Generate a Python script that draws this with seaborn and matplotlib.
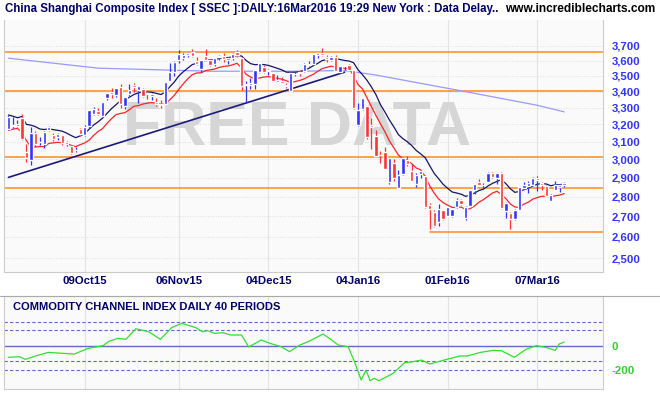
import numpy as np
import pandas as pd
import matplotlib
matplotlib.use("Agg")
import matplotlib.pyplot as plt
import seaborn as sns
from matplotlib.ticker import FixedLocator, NullLocator

# daily bars, 09Sep15 .. 16Mar16 (trading days)
opens = [3172,3190,3189,3237,3042,2996,3150,3095,3086,3165,3140,3124,3136,3085,3076,3052,
         3171,3140,3192,3262,3282,3251,3357,3396,3380,3428,3311,3387,3441,3410,3414,3388,3370,
         3336,3320,3325,3470,3525,3603,3620,3640,3656,3600,3546,3629,3603,3576,3621,3631,3602,3614,3659,3616,3444,
         3442,3450,3525,3558,3529,3518,3462,3469,3441,3404,3510,3522,3531,3573,3577,3639,3652,3625,3607,3626,3528,3566,3570,
         3536,3196,3292,3309,3195,3131,3023,3042,2876,2979,2847,2922,2999,2937,2867,2921,2911,2759,2720,2674,
         2731,2700,2704,2750,2785,2694,2755,2837,2878,2860,2878,2924,2898,2927,2726,2719,
         2687,2733,2845,2856,2864,2889,2874,2858,2780,2835,2852,2860]
highs = [3256,3243,3226,3262,3084,3182,3160,3125,3160,3192,3147,3150,3139,3102,3076,3070,
         3179,3198,3289,3304,3298,3338,3392,3423,3425,3448,3369,3445,3457,3437,3421,3397,3388,
         3358,3350,3459,3585,3596,3673,3649,3657,3679,3623,3606,3678,3612,3617,3640,3654,3617,3648,3669,3621,3470,
         3484,3538,3585,3568,3543,3518,3503,3495,3456,3521,3526,3540,3583,3599,3645,3651,3684,3638,3632,3636,3566,3573,3580,
         3538,3329,3362,3309,3236,3166,3044,3070,3011,3001,2940,3011,3020,2977,2925,2943,2914,2768,2734,2765,
         2732,2750,2739,2795,2786,2752,2837,2868,2892,2871,2933,2930,2928,2929,2775,2721,
         2738,2850,2875,2883,2904,2912,2878,2862,2815,2885,2867,2879]
lows = [3165,3178,3183,3110,2983,2968,3068,3083,3066,3160,3106,3108,3082,3075,3032,3039,
        3132,3134,3180,3257,3257,3250,3347,3358,3364,3297,3292,3372,3399,3332,3365,3354,3345,
        3310,3300,3325,3465,3501,3581,3606,3625,3627,3569,3524,3600,3563,3566,3601,3593,3577,3607,3627,3412,3327,
        3414,3417,3519,3520,3506,3465,3459,3454,3425,3401,3497,3502,3526,3564,3569,3618,3629,3592,3597,3532,3528,3538,3538,
        3295,3189,3289,3115,3056,3016,2978,2948,2867,2885,2845,2915,2962,2880,2849,2897,2740,2638,2646,2654,
        2683,2700,2695,2742,2758,2682,2755,2815,2860,2845,2877,2897,2869,2738,2693,2638,
        2681,2733,2838,2817,2860,2830,2833,2805,2779,2835,2824,2851]
closes = [3243,3197,3200,3114,3005,3152,3086,3097,3156,3185,3115,3142,3092,3100,3038,3053,
          3143,3183,3287,3293,3262,3338,3391,3386,3425,3320,3368,3412,3429,3434,3375,3387,3382,
          3325,3316,3459,3522,3590,3646,3640,3650,3632,3580,3606,3604,3568,3617,3630,3610,3616,3647,3635,3436,3445,
          3456,3536,3584,3524,3536,3470,3472,3455,3435,3520,3510,3516,3580,3578,3642,3651,3636,3612,3627,3533,3563,3572,3539,
          3296,3287,3361,3125,3186,3017,3022,2949,3007,2901,2913,3007,2976,2881,2916,2938,2750,2735,2655,2738,
          2689,2749,2739,2781,2763,2746,2837,2867,2862,2860,2927,2903,2928,2741,2767,2688,
          2733,2850,2859,2874,2897,2901,2862,2805,2810,2859,2864,2870]

date_labels = ["09Oct15", "06Nov15", "04Dec15", "04Jan16", "01Feb16", "07Mar16"]
date_idx = [17, 38, 58, 78, 98, 118]

ma200_idx = [0, 20, 45, 65, 75, 82, 100, 118, 124]
ma200_val = [3616, 3550, 3530, 3530, 3535, 3505, 3410, 3315, 3275]

trend_idx = [0, 75]
trend_val = [2902, 3524]

orange_levels = [3659, 3404, 3013, 2846]
support_level = 2626
support_start = 94

cci_idx = [0, 2.4, 3.8, 6.2, 8.9, 14.7, 17.8, 21.1, 22.4, 24.4, 26.2, 28.4, 31.3, 33.9, 36.4, 38.7,
           41.8, 43.3, 44.4, 46, 47.8, 49.6, 52, 53.6, 56.4, 58.4, 60.9, 62.7, 64.9, 67.2, 70.2, 71.6,
           73.6, 75.8, 77.3, 78.7, 79.8, 80.7, 81.6, 82.7, 85.8, 88.4, 89.8, 92.2, 94, 97.8, 100.7,
           102.4, 105.3, 108.2, 110, 112.9, 115.6, 117.8, 120.2, 122, 122.9, 124]
cci_val = [-94, -89, -111, -81, -53, -67, -19, 3, 39, 64, 56, 144, 119, 56, 153, 189,
           153, 119, 128, 106, 111, 92, 92, -8, 50, 22, -6, -47, 6, 42, 100, 64,
           8, -6, -139, -283, -200, -289, -269, -289, -228, -139, -133, -117, -150, -111, -83,
           -83, -53, -36, -39, -94, -25, 3, -14, -36, 17, 33]

sns.set_style("white")
plt.rcParams['font.family'] = ['Liberation Sans', 'DejaVu Sans']

W, H = 660, 400
fig = plt.figure(figsize=(6.6, 4.0), dpi=100)
fig.patch.set_facecolor("white")
ax = fig.add_axes([4/W, 1-272/H, 599/W, 252/H])
ax2 = fig.add_axes([4/W, 1-389/H, 599/W, 93/H])

navy = "#000066"
blue = "#3333ff"
xmax = (603 - 6) / 4.5

df = pd.DataFrame({"i": np.arange(len(closes)), "o": opens, "h": highs, "l": lows, "c": closes})
df["up"] = df.c >= df.o

for a in (ax, ax2):
    a.set_facecolor("#fafafa")
    for s in a.spines.values():
        s.set_color("#cccccc")
        s.set_linewidth(0.8)
ax.spines["top"].set_visible(False)

# main panel
ax.set_yscale("log")
ax.set_ylim(2437, 3880)
ax.set_xlim(-1, xmax)
ticks = list(range(2500, 3800, 100))
ax.yaxis.set_major_locator(FixedLocator(ticks))
ax.yaxis.set_minor_locator(NullLocator())
ax.set_yticklabels([f"{t:,}" for t in ticks], color=blue, fontsize=8.2, fontweight="bold")
ax.yaxis.tick_right()
ax.tick_params(axis="y", length=0, pad=6)
ax.set_xticks(date_idx)
ax.set_xticklabels(date_labels, color=navy, fontsize=8.2, fontweight="bold")
ax.tick_params(axis="x", length=0, pad=3)
for t in ticks:
    ax.axhline(t, color="#dddddd", lw=0.7, ls=":", zorder=0)
for d in date_idx:
    ax.axvline(d, color="#e3e3e3", lw=0.8, zorder=0)

ax.text(0.49, 0.57, "FREE DATA", transform=ax.transAxes, ha="center", va="center",
        fontsize=45, fontweight="bold", color="#d6d6d6", zorder=0)

for lv in orange_levels:
    ax.axhline(lv, color="#ff8c1a", lw=1.1, zorder=1)
ax.plot([support_start, xmax], [support_level, support_level], color="#ff8c1a", lw=1.1, zorder=1)

sns.lineplot(x=ma200_idx, y=ma200_val, ax=ax, color="#9999ff", lw=0.9, zorder=2)
sns.lineplot(x=trend_idx, y=trend_val, ax=ax, color="#1a1a7a", lw=1.2, zorder=2)

hi_ma = df.h.ewm(span=10).mean()
lo_ma = df.l.ewm(span=10).mean()
sns.lineplot(x=df.i, y=hi_ma, ax=ax, color="#141466", lw=0.9, zorder=3)
sns.lineplot(x=df.i, y=lo_ma, ax=ax, color="#ff2222", lw=0.9, zorder=3)

col = np.where(df.up, "#3333ff", "#ff3333")
ax.vlines(df.i, df.l, df.h, colors=col, lw=0.9, zorder=4)
body_lo = np.minimum(df.o, df.c)
body_hi = np.maximum(df.o, df.c)
ax.bar(df.i, body_hi - body_lo, bottom=body_lo, width=0.75, color=col, zorder=5)
ax.set_xlabel("")
ax.set_ylabel("")

# CCI panel
ax2.set_xlim(-1, xmax)
ax2.set_ylim(-358, 417)
ax2.set_xticks(date_idx)
ax2.set_xticklabels([])
ax2.tick_params(axis="x", length=0)
for d in date_idx:
    ax2.axvline(d, color="#e3e3e3", lw=0.8, zorder=0)
for lv in (200, 133, -125, -200):
    ax2.axhline(lv, color="#6666cc", lw=0.8, ls=(0, (3, 2)), zorder=1)
ax2.axhline(0, color="#6666cc", lw=1.0, zorder=1)
ax2.set_yticks([0, -200])
ax2.set_yticklabels(["0", "-200"], color="#33cc33", fontsize=8.2, fontweight="bold")
ax2.yaxis.tick_right()
ax2.tick_params(axis="y", length=0, pad=6)
sns.lineplot(x=cci_idx, y=cci_val, ax=ax2, color="#33dd33", lw=0.9, zorder=3)
ax2.set_xlabel("")
ax2.set_ylabel("")
ax2.text(0.015, 0.94, "COMMODITY CHANNEL INDEX DAILY 40 PERIODS", transform=ax2.transAxes,
         ha="left", va="top", fontsize=8, fontweight="bold", color=navy)

fig.add_artist(plt.Line2D([0, 1], [1-296/H, 1-296/H], color="#aaaaaa", lw=0.8))
fig.text(5/W, 1-9/H, "China Shanghai Composite Index [ SSEC ]:DAILY:16Mar2016 19:29 New York : Data Delay..",
         ha="left", va="center", fontsize=8.3, fontweight="bold", color=navy)
fig.text(655/W, 1-9/H, "www.incrediblecharts.com", ha="right", va="center",
         fontsize=8.6, fontweight="bold", color="black")

fig.savefig("out.png", dpi=100)
